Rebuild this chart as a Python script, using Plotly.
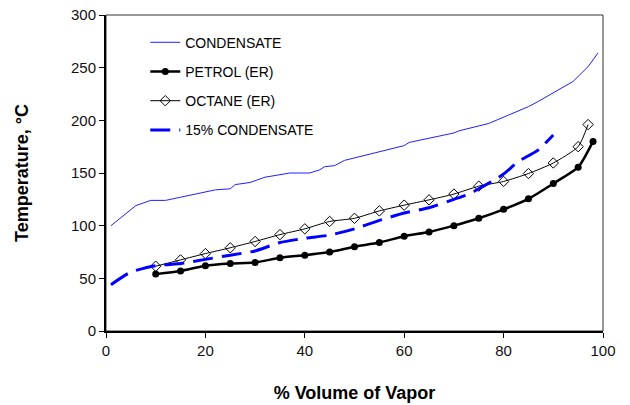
import plotly.graph_objects as go

# CONDENSATE (thin solid blue)
cond_x = [1, 6, 9, 12, 15, 20, 22, 25, 26, 29, 32, 37, 41, 43, 44, 46, 48, 54, 60, 61, 65, 70, 71, 75, 77, 81, 85, 87, 91, 94, 97, 99]
cond_y = [100, 119, 124, 124, 127, 132, 134, 135, 139, 141, 146, 150, 150, 153, 156, 157, 162, 169, 176, 179, 183, 188, 190, 195, 197, 205, 213, 218, 229, 237, 251, 264]

# PETROL (ER)
petrol_x = [10, 15, 20, 25, 30, 35, 40, 45, 50, 55, 60, 65, 70, 75, 80, 85, 90, 95, 98]
petrol_y = [54, 57, 62, 64, 65, 69.5, 72, 75, 80, 84, 90, 94, 100, 107, 115.5, 125.5, 140, 155.5, 180]

# OCTANE (ER)
octane_x = [10, 15, 20, 25, 30, 35, 40, 45, 50, 55, 60, 65, 70, 75, 80, 85, 90, 95, 97]
octane_y = [61.5, 67.5, 73.5, 79, 85, 91.5, 97, 104, 107, 114, 119.5, 124.5, 130, 137.5, 142, 149.5, 159.5, 175, 196]

# 15% CONDENSATE (dashed blue)
c15_x = [1, 5, 10, 15, 20, 25, 30, 35, 40, 45, 50, 55, 60, 65, 70, 73, 75, 78, 80, 83, 87, 90]
c15_y = [44, 56, 62, 64, 68, 72, 76, 84, 88, 91, 97, 105, 112, 117, 125, 130, 135, 143, 149, 161, 172, 186]

x_ticks = [0, 20, 40, 60, 80, 100]
y_ticks = [0, 50, 100, 150, 200, 250, 300]

FONT = "Liberation Sans, Arial"

fig = go.Figure()
fig.add_trace(go.Scatter(x=cond_x, y=cond_y, mode="lines", name="CONDENSATE",
                         line=dict(color="#1f1fff", width=1), legendgroup="a"))
fig.add_trace(go.Scatter(x=petrol_x, y=petrol_y, mode="lines+markers", name="PETROL (ER)",
                         line=dict(color="black", width=2.5, shape="spline", smoothing=0.6),
                         marker=dict(symbol="circle", size=7, color="black"), legendgroup="b"))
fig.add_trace(go.Scatter(x=octane_x, y=octane_y, mode="lines+markers", name="OCTANE (ER)",
                         line=dict(color="black", width=1, shape="spline", smoothing=0.6),
                         marker=dict(symbol="diamond-open", size=8, color="black", line=dict(width=1)),
                         legendgroup="c"))
fig.add_trace(go.Scatter(x=c15_x, y=c15_y, mode="lines", name="15% CONDENSATE",
                         line=dict(color="#0000ff", width=3, dash="20px,9px", shape="spline", smoothing=0.5),
                         legendgroup="d"))

axis_common = dict(showgrid=False, zeroline=False, showline=True, linecolor="black", linewidth=2,
                   ticks="outside", ticklen=5, tickwidth=1, tickcolor="black", automargin=False,
                   tickfont=dict(family=FONT, size=15, color="#111"))

fig.update_layout(
    width=630, height=405,
    margin=dict(l=106, r=27, t=15, b=74),
    paper_bgcolor="white", plot_bgcolor="white",
    showlegend=True,
    legend=dict(x=0.079, y=0.963, xanchor="left", yanchor="top",
                font=dict(family=FONT, size=14, color="black"),
                bgcolor="rgba(0,0,0,0)", traceorder="grouped", tracegroupgap=8),
    xaxis=dict(range=[0, 100], tickvals=x_ticks,
               title=dict(text="<b>% Volume of Vapor</b>", font=dict(family=FONT, size=18, color="black"), standoff=28),
               **axis_common),
    yaxis=dict(range=[0, 300], tickvals=y_ticks,
               title=dict(text="<b>Temperature, °C</b>", font=dict(family=FONT, size=18, color="black"), standoff=38),
               **axis_common),
    shapes=[dict(type="rect", xref="paper", yref="paper", x0=0, y0=0, x1=1, y1=1,
                 line=dict(color="#333", width=1), layer="below")],
)

fig.write_html("out.html")
